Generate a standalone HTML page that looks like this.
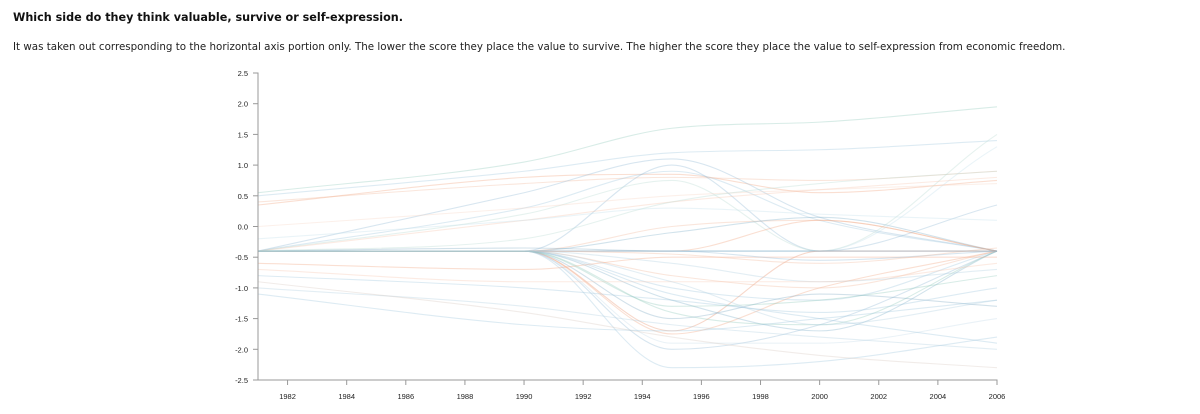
<!DOCTYPE html>
<html><head><meta charset="utf-8">
<style>
body{margin:0;background:#fff;width:1200px;height:414px;overflow:hidden;font-family:"Liberation Sans","DejaVu Sans",sans-serif;}
h1{position:absolute;left:13px;top:11px;margin:0;font-size:11.2px;font-weight:bold;color:#111;font-family:"DejaVu Sans","Liberation Sans",sans-serif;}
p{position:absolute;left:13px;top:41px;margin:0;font-size:10.3px;color:#222;font-family:"DejaVu Sans","Liberation Sans",sans-serif;}
svg{position:absolute;left:0;top:0;}
</style></head><body>
<h1>Which side do they think valuable, survive or self-expression.</h1>
<p>It was taken out corresponding to the horizontal axis portion only. The lower the score they place the value to survive. The higher the score they place the value to self-expression from economic freedom.</p>
<svg id="chart" width="1200" height="414"></svg>
<script>
const years = [1981, 1990, 1995, 2000, 2006];
const xTicks = [1982,1984,1986,1988,1990,1992,1994,1996,1998,2000,2002,2004,2006];
const yTicks = [2.5,2.0,1.5,1.0,0.5,0.0,-0.5,-1.0,-1.5,-2.0,-2.5];
const seriesValues = [
 [0.55,1.05,1.6,1.7,1.95],
 [0.5,0.9,1.2,1.25,1.4],
 [0.35,0.8,0.85,0.55,0.75],
 [0.4,0.7,0.8,0.75,0.9],
 [-0.4,0.55,1.1,0.15,-0.4],
 [-0.4,0.3,0.9,0.1,-0.4],
 [-0.4,-0.4,1.0,-0.4,-0.4],
 [-0.4,0.2,0.75,-0.4,1.5],
 [-0.4,-0.4,0.0,0.1,-0.4],
 [-0.4,-0.4,-0.1,0.15,-0.4],
 [-0.4,-0.4,-0.4,0.1,-0.4],
 [-0.4,-0.4,-0.4,-0.4,1.3],
 [-0.4,-0.4,-0.4,-0.4,0.35],
 [-0.4,0.1,0.4,0.6,0.8],
 [-0.4,-0.4,-1.7,-0.4,-0.4],
 [-0.4,-0.4,-1.75,-1.0,-0.4],
 [-0.4,-0.4,-2.0,-1.6,-0.4],
 [-0.4,-0.4,-2.3,-2.2,-1.8],
 [-0.4,-0.4,-1.2,-1.7,-0.4],
 [-0.4,-0.4,-1.4,-1.6,-0.4],
 [-0.4,-0.4,-1.0,-1.2,-0.4],
 [-0.4,-0.4,-0.8,-1.0,-0.4],
 [-0.4,-0.4,-0.6,-0.9,-0.7],
 [-0.4,-0.4,-1.5,-1.1,-1.3],
 [-0.4,-0.4,-1.9,-1.9,-1.5],
 [-0.8,-1.0,-1.2,-1.4,-1.0],
 [-0.7,-0.9,-0.9,-0.9,-0.6],
 [-1.0,-1.3,-1.6,-1.8,-2.0],
 [-0.9,-1.4,-1.8,-2.1,-2.3],
 [-1.1,-1.6,-1.7,-1.5,-1.2],
 [-0.6,-0.7,-0.5,-0.5,-0.5],
 [-0.4,-0.4,-0.4,-0.55,-0.4],
 [-0.4,-0.4,-0.45,-0.6,-0.35],
 [-0.4,-0.35,-0.4,-0.4,-0.4],
 [0.0,0.3,0.5,0.6,0.7],
 [-0.2,0.1,0.3,0.2,0.1],
 [-0.4,-0.2,0.4,0.7,0.9],
 [-0.4,-0.4,-1.1,-1.5,-1.9],
 [-0.4,-0.4,-1.3,-1.2,-0.8],
 [-0.4,-0.4,-0.9,-1.6,-1.2]
];
const seriesColors = ['#8fc9b9','#9ec5dd','#f2a27e','#f2b79a','#8fb6d4','#9ec5dd','#8fb6d4','#b7dad0','#f2b79a','#7fb0c9','#f2a27e','#c4e0ea','#8fb6d4','#f6c7ae','#e8906a','#f2a27e','#8fb6d4','#9ec5dd','#7fb0c9','#8fc9b9','#9ec5dd','#f2b79a','#b0cde0','#7fa9c4','#c4dbe8','#9ec5dd','#f6c7ae','#b0cde0','#d8c9c0','#9ec5dd','#f2a27e','#8fb6d4','#f2b79a','#7fa9c4','#f6d5c4','#c4e0ea','#b7dad0','#9ec5dd','#8fc9b9','#b0cde0'];

const svg = document.getElementById('chart');
const NS = 'http://www.w3.org/2000/svg';
const x0 = 258, x1 = 997, y0 = 380, y1 = 73;
const xScale = v => x0 + (v - 1981) / (2006 - 1981) * (x1 - x0);
const yScale = v => y0 + (v + 2.5) / 5 * (y1 - y0);

function mk(tag, attrs){const e=document.createElementNS(NS,tag);for(const k in attrs)e.setAttribute(k,attrs[k]);svg.appendChild(e);return e;}

function monotonePath(pts){
  const n=pts.length, dx=[], s=[], m=[];
  for(let i=0;i<n-1;i++){dx[i]=pts[i+1][0]-pts[i][0]; s[i]=(pts[i+1][1]-pts[i][1])/dx[i];}
  m[0]=s[0]; m[n-1]=s[n-2];
  for(let i=1;i<n-1;i++){ m[i]=(s[i-1]*s[i]<=0)?0:(s[i-1]+s[i])/2; }
  for(let i=0;i<n-1;i++){
    if(s[i]===0){m[i]=0;m[i+1]=0;continue;}
    const a=m[i]/s[i], b=m[i+1]/s[i], h=a*a+b*b;
    if(h>9){const t=3/Math.sqrt(h);m[i]=t*a*s[i];m[i+1]=t*b*s[i];}
  }
  let d='M'+pts[0][0]+','+pts[0][1];
  for(let i=0;i<n-1;i++){
    const h=dx[i]/3;
    d+=' C'+(pts[i][0]+h)+','+(pts[i][1]+m[i]*h)+' '+(pts[i+1][0]-h)+','+(pts[i+1][1]-m[i+1]*h)+' '+pts[i+1][0]+','+pts[i+1][1];
  }
  return d;
}

seriesValues.forEach((vals,i)=>{
  const pts = vals.map((v,j)=>[xScale(years[j]), yScale(v)]);
  const path = mk('path',{d:monotonePath(pts),fill:'none',stroke:seriesColors[i%seriesColors.length],'stroke-width':1.1,'stroke-opacity':0.35});
  
  
});

const ya = mk('path',{d:`M${x0-5},${y1}H${x0}V${y0}H${x0-5}`,fill:'none',stroke:'#999','stroke-width':1});


yTicks.forEach(v=>{
  const y=yScale(v);
  const tk = mk('line',{x1:x0-5,x2:x0,y1:y,y2:y,stroke:'#999'});
  
  
  const t = mk('text',{x:x0-10,y:y+3,'text-anchor':'end','font-size':7.5,fill:'#222'});
  t.textContent = v.toFixed(1);
  
  
});
const xa = mk('path',{d:`M${x0},${y0}H${x1}V${y0+5}`,fill:'none',stroke:'#999','stroke-width':1});


xTicks.forEach(v=>{
  const x=xScale(v);
  const tk = mk('line',{x1:x,x2:x,y1:y0,y2:y0+5,stroke:'#999'});
  
  
  const t = mk('text',{x:x,y:y0+19,'text-anchor':'middle','font-size':7.5,fill:'#222'});
  t.textContent = v;
  
  
});
</script>
</body></html>
